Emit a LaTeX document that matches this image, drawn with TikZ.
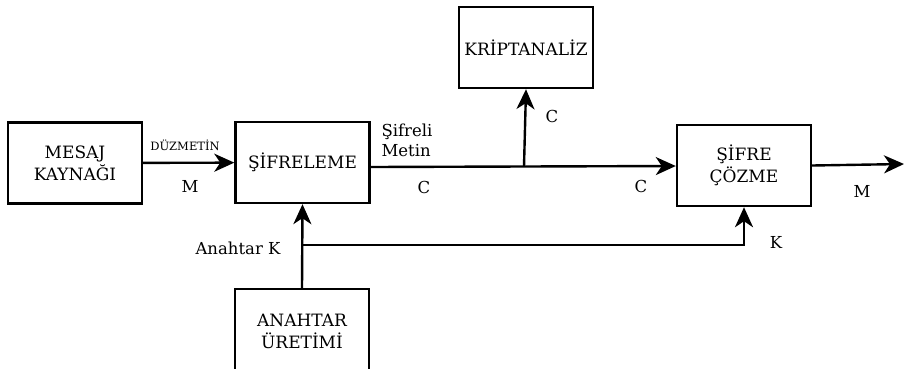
\documentclass[tikz,border=0pt]{standalone}
\usepackage{fontspec}
\setmainfont{DejaVu Serif}
\usetikzlibrary{arrows.meta}

\begin{document}
\begin{tikzpicture}[x=1pt,y=-1pt,
  blok/.style={draw=black,line width=2.4pt,minimum width=134pt,minimum height=81pt,
    align=center,inner sep=1pt,font=\fontsize{17}{22}\selectfont},
  ok/.style={line width=2.4pt,-{Stealth[length=20pt,width=18pt,inset=6pt]}},
  etiket/.style={font=\fontsize{16.5}{20}\selectfont}]
\useasboundingbox (0,0) rectangle (904,368);
% blocks:
\node[blok] (mesaj) at (75,163) {MESAJ\\KAYNAĞI};
\node[blok] (sifreleme) at (302.5,162.5) {ŞİFRELEME};
\node[blok] (kripto) at (526,47.5) {KRİPTANALİZ};
\node[blok] (cozme) at (744,165.5) {ŞİFRE\\ÇÖZME};
\node[blok,minimum height=84pt] (anahtar) at (302,331) {ANAHTAR\\ÜRETİMİ};
% branch points:
\coordinate (dal) at (524,166.5);
\coordinate (kavsak) at (302,245);
\coordinate (cikis) at (904,164);
% message and cipher paths:
\draw[ok] (mesaj) -- (sifreleme);
\draw[ok] ([yshift=-4.5pt]sifreleme.east) -- ([yshift=-0.5pt]cozme.west);
\draw[ok] (dal) -- (kripto.south);
\draw[ok] (cozme.east) -- (cikis);
% key paths:
\draw[ok] (anahtar.north) -- (sifreleme.south);
\draw[ok] (kavsak) -| (cozme.south);
% labels:
\node[font=\fontsize{11.5}{14}\selectfont] (duz) at (185,145) {DÜZMETİN};
\node[etiket] (m1) at (190,186) {M};
\node[etiket,align=left,anchor=west] (sm) at (378,140) {Şifreli\\Metin};
\node[etiket] (c1) at (424,187) {C};
\node[etiket] (c2) at (552,116) {C};
\node[etiket] (c3) at (641,186) {C};
\node[etiket] (m2) at (862,191) {M};
\node[etiket] (k1) at (776,242) {K};
\node[etiket] (ak) at (238,248) {Anahtar K};
\end{tikzpicture}
\end{document}
